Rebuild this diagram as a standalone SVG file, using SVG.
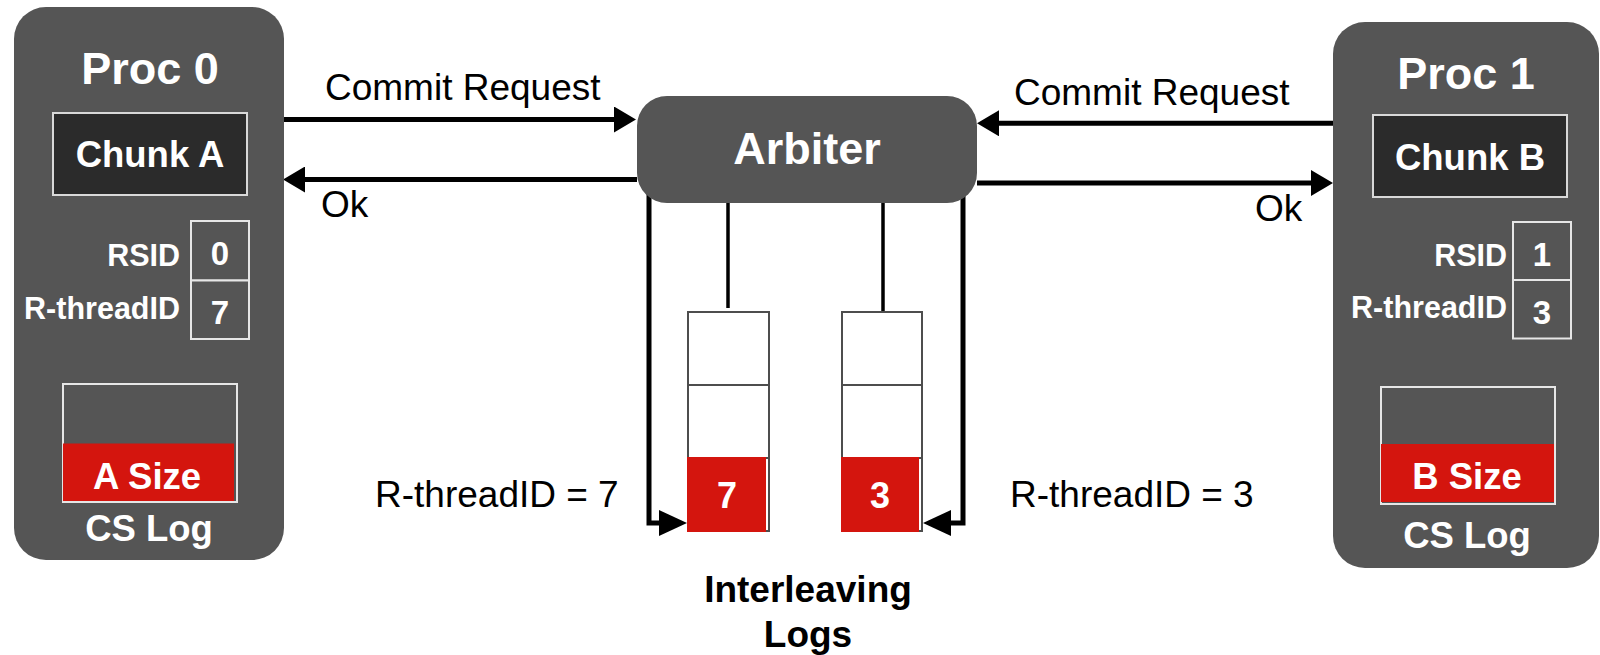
<svg xmlns="http://www.w3.org/2000/svg" width="1600" height="655" viewBox="0 0 1600 655">
  <style>
    text { font-family: "Liberation Sans", Arial, Helvetica, sans-serif; }
    .box { fill: #555555; }
    .chunk { fill: #2b2b2b; stroke: #d9d9d9; stroke-width: 2; }
    .cell { fill: #555555; stroke: #e6e6e6; stroke-width: 2; }
    .red { fill: #d4150e; }
    .logcell { fill: #ffffff; stroke: #4d4d4d; stroke-width: 2; }
    .wb { fill: #ffffff; font-weight: bold; }
    .title { font-size: 45px; text-anchor: middle; }
    .mid { font-size: 36.5px; text-anchor: middle; }
    .lbl { font-size: 30.5px; text-anchor: end; }
    .dig { font-size: 33px; text-anchor: middle; }
    .plain { fill: #000000; font-size: 37px; }
    .heavy { stroke-width: 5; stroke: #000000; fill: none; stroke-linejoin: miter; }
    .thin { stroke: #000000; stroke-width: 3.5; fill: none; }
    .caption { fill: #000000; font-weight: bold; font-size: 37px; text-anchor: middle; }
  </style>
  <defs>
    <marker id="head" viewBox="0 0 22 26" markerWidth="22" markerHeight="26" refX="0" refY="13" orient="auto" markerUnits="userSpaceOnUse">
      <path d="M0,0 L22,13 L0,26 z" fill="#000000"/>
    </marker>
    <marker id="headLong" viewBox="0 0 28 26" markerWidth="28" markerHeight="26" refX="0" refY="13" orient="auto" markerUnits="userSpaceOnUse">
      <path d="M0,0 L28,13 L0,26 z" fill="#000000"/>
    </marker>
  </defs>

  <!-- connectors -->
  <g id="connectors">
    <path class="heavy" d="M283,119.5 H614" marker-end="url(#head)"/>
    <path class="heavy" d="M637,179.5 H305" marker-end="url(#head)"/>
    <path class="heavy" d="M1333,123.3 H999" marker-end="url(#head)"/>
    <path class="heavy" d="M977,183 H1311" marker-end="url(#head)"/>
    <path class="heavy" d="M649,170 V523 H659" marker-end="url(#headLong)"/>
    <path class="heavy" d="M963,170 V523 H951" marker-end="url(#headLong)"/>
    <path class="thin" d="M728,170 V308"/>
    <path class="thin" d="M883,170 V312"/>
    <text class="plain" x="325" y="100">Commit Request</text>
    <text class="plain" x="321" y="217">Ok</text>
    <text class="plain" x="1014" y="105">Commit Request</text>
    <text class="plain" x="1255" y="221">Ok</text>
    <text class="plain" x="375" y="507">R-threadID = 7</text>
    <text class="plain" x="1010" y="507">R-threadID = 3</text>
  </g>

  <!-- processor 0 -->
  <g id="proc0">
    <rect class="box" x="14" y="7" width="270" height="553" rx="32"/>
    <text class="wb title" x="150" y="84">Proc 0</text>
    <rect class="chunk" x="53" y="113" width="194" height="82"/>
    <text class="wb mid" x="150" y="167">Chunk A</text>
    <rect class="cell" x="191" y="221" width="58" height="59.5"/>
    <rect class="cell" x="191" y="280.5" width="58" height="58.5"/>
    <text class="wb lbl" x="180" y="266">RSID</text>
    <text class="wb lbl" x="180" y="319">R-threadID</text>
    <text class="wb dig" x="220" y="265">0</text>
    <text class="wb dig" x="220" y="324">7</text>
    <rect class="cell" x="63" y="384" width="174" height="118"/>
    <rect class="red" x="63" y="443.5" width="171" height="57.5"/>
    <text class="wb mid" x="147" y="489">A Size</text>
    <text class="wb mid" x="149" y="541">CS Log</text>
  </g>

  <!-- arbiter -->
  <g id="arbiter">
    <rect class="box" x="637" y="96" width="340" height="107" rx="30"/>
    <text class="wb title" x="807" y="164">Arbiter</text>
  </g>

  <!-- interleaving logs -->
  <g id="log7">
    <rect class="logcell" x="688" y="312" width="81" height="73"/>
    <rect class="logcell" x="688" y="385" width="81" height="73"/>
    <rect class="logcell" x="688" y="458" width="81" height="73"/>
    <rect class="red" x="687" y="457" width="79" height="75"/>
    <text class="wb" x="727" y="508" font-size="36" text-anchor="middle">7</text>
  </g>
  <g id="log3">
    <rect class="logcell" x="842" y="312" width="80" height="73"/>
    <rect class="logcell" x="842" y="385" width="80" height="73"/>
    <rect class="logcell" x="842" y="458" width="80" height="73"/>
    <rect class="red" x="841" y="457" width="78" height="75"/>
    <text class="wb" x="880" y="508" font-size="36" text-anchor="middle">3</text>
  </g>
  <g id="logs-caption">
    <text class="caption" x="808" y="602">Interleaving</text>
    <text class="caption" x="808" y="647">Logs</text>
  </g>

  <!-- processor 1 -->
  <g id="proc1">
    <rect class="box" x="1333" y="22" width="266" height="546" rx="32"/>
    <text class="wb title" x="1466" y="89">Proc 1</text>
    <rect class="chunk" x="1373" y="115" width="194" height="82"/>
    <text class="wb mid" x="1470" y="170">Chunk B</text>
    <rect class="cell" x="1513" y="222" width="58" height="58"/>
    <rect class="cell" x="1513" y="280" width="58" height="58.5"/>
    <text class="wb lbl" x="1507" y="266">RSID</text>
    <text class="wb lbl" x="1507" y="318">R-threadID</text>
    <text class="wb dig" x="1542" y="266">1</text>
    <text class="wb dig" x="1542" y="324">3</text>
    <rect class="cell" x="1381" y="387" width="174" height="117"/>
    <rect class="red" x="1381" y="444" width="173" height="58"/>
    <text class="wb mid" x="1467" y="489">B Size</text>
    <text class="wb mid" x="1467" y="548">CS Log</text>
  </g>
</svg>
